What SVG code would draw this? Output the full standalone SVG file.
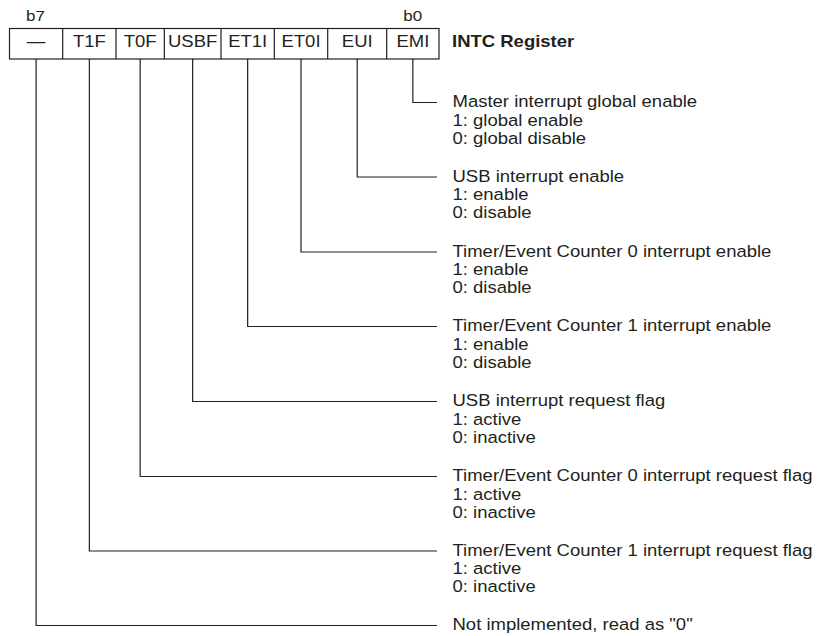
<svg xmlns="http://www.w3.org/2000/svg" width="819" height="636" viewBox="0 0 819 636">
<style>
.t{font-family:"Liberation Sans",Arial,sans-serif;font-size:16.3px;fill:#231f20}
.b{font-weight:bold}
.c{text-anchor:middle}
.s{font-size:15px}
.box{fill:#ffffff;stroke:#231f20;stroke-width:1.2}
.ln{fill:none;stroke:#231f20;stroke-width:1.2}
</style>
<rect width="819" height="636" fill="#ffffff"/>
<g id="register">
<rect class="box" x="9.5" y="28.5" width="429.5" height="30.5"/>
<path class="ln" d="M62.7,28.5V59M116,28.5V59M164.3,28.5V59M221,28.5V59M274.3,28.5V59M327.7,28.5V59M386.7,28.5V59"/>
<text class="t s" transform="translate(26,21) scale(1.135,1)">b7</text>
<text class="t s" transform="translate(403.3,21) scale(1.135,1)">b0</text>
<text class="t c" transform="translate(36.1,47) scale(1.135,1)">—</text>
<text class="t c" transform="translate(89.35,47) scale(1.135,1)">T1F</text>
<text class="t c" transform="translate(140.15,47) scale(1.135,1)">T0F</text>
<text class="t c" transform="translate(192.65,47) scale(1.135,1)">USBF</text>
<text class="t c" transform="translate(247.65,47) scale(1.135,1)">ET1I</text>
<text class="t c" transform="translate(301,47) scale(1.135,1)">ET0I</text>
<text class="t c" transform="translate(357.2,47) scale(1.135,1)">EUI</text>
<text class="t c" transform="translate(412.85,47) scale(1.135,1)">EMI</text>
<text class="t b" transform="translate(452,46.7) scale(1.135,1)">INTC Register</text>
</g>
<g id="connectors">
<path class="ln" d="M412.85,59V102.5H437"/>
<path class="ln" d="M357.2,59V177H437"/>
<path class="ln" d="M301,59V252H437"/>
<path class="ln" d="M247.65,59V326.5H437"/>
<path class="ln" d="M192.65,59V401.5H437"/>
<path class="ln" d="M140.15,59V476.5H437"/>
<path class="ln" d="M89.35,59V551H437"/>
<path class="ln" d="M36.1,59V625.5H437"/>
</g>
<g id="desc-emi">
<text class="t" transform="translate(452.5,107.3) scale(1.135,1)"><tspan x="0">Master interrupt global enable</tspan><tspan x="0" dy="18.3">1: global enable</tspan><tspan x="0" dy="18.3">0: global disable</tspan></text>
</g>
<g id="desc-eui">
<text class="t" transform="translate(452.5,181.8) scale(1.135,1)"><tspan x="0">USB interrupt enable</tspan><tspan x="0" dy="18.3">1: enable</tspan><tspan x="0" dy="18.3">0: disable</tspan></text>
</g>
<g id="desc-et0i">
<text class="t" transform="translate(452.5,256.8) scale(1.135,1)"><tspan x="0">Timer/Event Counter 0 interrupt enable</tspan><tspan x="0" dy="18.3">1: enable</tspan><tspan x="0" dy="18.3">0: disable</tspan></text>
</g>
<g id="desc-et1i">
<text class="t" transform="translate(452.5,331.3) scale(1.135,1)"><tspan x="0">Timer/Event Counter 1 interrupt enable</tspan><tspan x="0" dy="18.3">1: enable</tspan><tspan x="0" dy="18.3">0: disable</tspan></text>
</g>
<g id="desc-usbf">
<text class="t" transform="translate(452.5,406.3) scale(1.135,1)"><tspan x="0">USB interrupt request flag</tspan><tspan x="0" dy="18.3">1: active</tspan><tspan x="0" dy="18.3">0: inactive</tspan></text>
</g>
<g id="desc-t0f">
<text class="t" transform="translate(452.5,481.3) scale(1.135,1)"><tspan x="0">Timer/Event Counter 0 interrupt request flag</tspan><tspan x="0" dy="18.3">1: active</tspan><tspan x="0" dy="18.3">0: inactive</tspan></text>
</g>
<g id="desc-t1f">
<text class="t" transform="translate(452.5,555.8) scale(1.135,1)"><tspan x="0">Timer/Event Counter 1 interrupt request flag</tspan><tspan x="0" dy="18.3">1: active</tspan><tspan x="0" dy="18.3">0: inactive</tspan></text>
</g>
<g id="desc-unused">
<text class="t" transform="translate(452.5,630.3) scale(1.135,1)">Not implemented, read as "0"</text>
</g>
</svg>
